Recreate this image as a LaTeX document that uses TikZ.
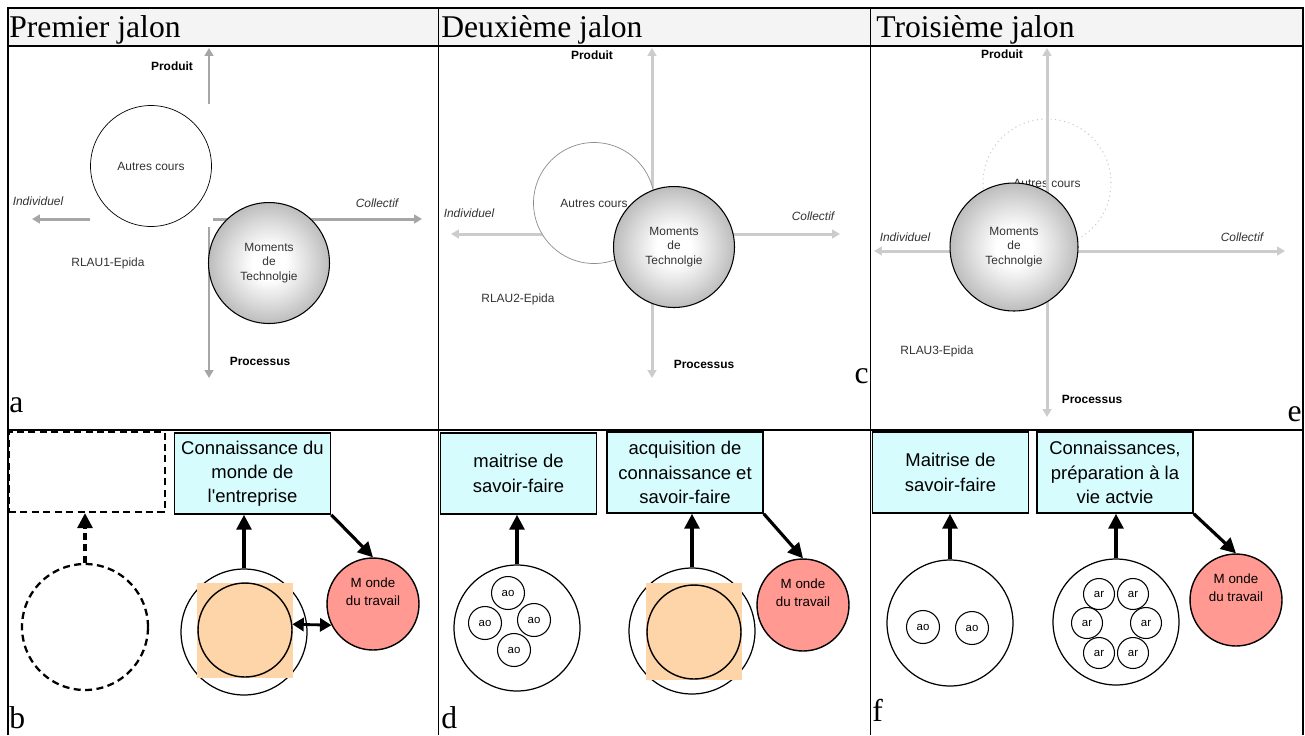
\documentclass[tikz,border=0pt]{standalone}
\usepackage{fontspec}
\setmainfont{Liberation Serif}
\setsansfont{Liberation Sans}
\usepackage{xcolor}
\usetikzlibrary{arrows.meta}
\definecolor{headgray}{RGB}{244,244,244}
\definecolor{axisdark}{RGB}{166,166,166}
\definecolor{axislight}{RGB}{204,204,204}
\definecolor{boxcyan}{RGB}{214,252,253}
\definecolor{peach}{RGB}{253,213,168}
\definecolor{salmon}{RGB}{255,153,145}
\pgfdeclareradialshading{momentshade}{\pgfpoint{0bp}{0bp}}{color(0bp)=(white); color(7bp)=(white); color(17bp)=(black!14); color(25bp)=(black!26); color(50bp)=(black!26)}
\newcommand\lblfont{\sffamily\fontsize{6.8}{8.4}\selectfont}
\tikzset{
	tableline/.style={line width=0.8pt},%
	jalon/.style={font=\fontsize{18}{20}\selectfont,anchor=base west,inner sep=0},%
	panelletter/.style={font=\fontsize{18}{20}\selectfont,inner sep=0},%
	axisa/.style={line width=1.7pt,draw=axisdark,-{Triangle[length=4.5pt,width=5pt]}},%
	axisb/.style={line width=1.7pt,draw=axislight,{Triangle[length=4.5pt,width=5pt]}-{Triangle[length=4.5pt,width=5pt]}},%
	pole/.style={font=\lblfont\bfseries,inner sep=0},%
	side/.style={font=\lblfont\itshape,text=black!80,inner sep=0},%
	tag/.style={font=\lblfont,text=black!80,inner sep=0},%
	autres/.style={circle,draw,fill=white,minimum size=2.42cm,inner sep=0,font=\lblfont,text=black!80},%
	moments/.style={circle,draw,line width=0.6pt,shading=momentshade,minimum size=2.42cm,inner sep=0,align=center,font=\lblfont,text=black!80},%
	goal/.style={draw,line width=0.9pt,fill=boxcyan,minimum width=3.12cm,minimum height=1.62cm,inner sep=0,align=center,font=\sffamily\fontsize{10.5}{13.8}\selectfont},%
	blank/.style={draw,line width=1.3pt,dash pattern=on 4pt off 2.5pt,minimum width=3.12cm,minimum height=1.6cm,inner sep=0},%
	group/.style={circle,draw,line width=0.7pt,minimum size=2.52cm,inner sep=0},%
	core/.style={circle,draw,line width=0.8pt,minimum size=1.88cm,inner sep=0},%
	mondetext/.style={font=\sffamily\fontsize{7.6}{10.3}\selectfont,align=center,inner sep=0,yshift=6.8pt},%
	monde/.style={circle,draw,line width=0.8pt,fill=salmon,minimum size=1.84cm,inner sep=0,label={[mondetext]center:M onde\\du travail}},%
	pupil/.style={circle,draw,line width=0.6pt,minimum size=0.66cm,inner sep=0,font=\sffamily\fontsize{6.5}{7}\selectfont},%
	learner/.style={pupil,minimum size=0.62cm},%
	link/.style={line width=1.8pt,-{Triangle[length=8.5pt,width=8.5pt]}},%
	dashlink/.style={link,dash pattern=on 4pt off 2.5pt},%
	bothlink/.style={line width=1.6pt,{Triangle[length=6.5pt,width=7.5pt]}-{Triangle[length=6.5pt,width=7.5pt]}},%
}
\begin{document}
\begin{tikzpicture}[x=0.02cm,y=-0.02cm]
	\useasboundingbox (0,0) rectangle (1305,735);
	% Table {{{
	\fill[headgray] (8,8) rectangle (1303,46);
	\draw[tableline] (8,735) -- (8,8) -- (1303,8) -- (1303,735);
	\draw[tableline] (8,46) -- (1303,46) (8,430) -- (1303,430);
	\draw[tableline] (438.5,8) -- (438.5,735) (870.5,8) -- (870.5,735);
	\node[jalon] (jalona) at (9,37) {Premier jalon};
	\node[jalon] (jalonc) at (441,37) {Deuxième jalon};
	\node[jalon] (jalone) at (876,37) {Troisième jalon};
	% }}}
	% Premier jalon, a {{{
	\draw[axisa] (209,104) -- (209,48);
	\draw[axisa] (90,219) -- (32,219);
	\draw[axisa] (213,219) -- (422,219);
	\draw[axisa] (209,227) -- (209,378);
	\node[autres] (autresa) at (151,166) {Autres cours};
	\node[moments] (momentsa) at (269,263) {Moments\\de\\Technolgie};
	\node[pole] (produita) at (172,66) {Produit};
	\node[pole] (processusa) at (260,361) {Processus};
	\node[side] (individuela) at (38,201) {Individuel};
	\node[side] (collectifa) at (377,203) {Collectif};
	\node[tag] (rlaua) at (108,263) {RLAU1-Epida};
	\node[panelletter,anchor=base west] (lettera) at (9,412) {a};
	% }}}
	% Deuxieme jalon, c {{{
	\draw[axisb] (652,48) -- (652,378);
	\draw[axisb] (451,234) -- (840,234);
	\node[autres,draw=black!45,line width=0.4pt] (autresc) at (594,203) {Autres cours};
	\node[moments] (momentsc) at (674,247) {Moments\\de\\Technolgie};
	\node[pole] (produitc) at (592,55) {Produit};
	\node[pole] (processusc) at (704,364) {Processus};
	\node[side] (individuelc) at (469,213) {Individuel};
	\node[side] (collectifc) at (813,216) {Collectif};
	\node[tag] (rlauc) at (518,299) {RLAU2-Epida};
	\node[panelletter,anchor=base east] (letterc) at (869,383) {c};
	% }}}
	% Troisieme jalon, e {{{
	\node[autres,fill=none,draw=black!22,dotted,line width=0.6pt,minimum size=2.56cm] (autrese) at (1047,183) {Autres cours};
	\draw[axisb] (1047,48) -- (1047,417);
	\draw[axisb] (874,251) -- (1285,251);
	\node[moments,minimum size=2.56cm] (momentse) at (1014,247) {Moments\\de\\Technolgie};
	\node[pole] (produite) at (1002,54) {Produit};
	\node[pole] (processuse) at (1092,399) {Processus};
	\node[side] (individuele) at (905,237) {Individuel};
	\node[side] (collectife) at (1242,237) {Collectif};
	\node[tag] (rlaue) at (937,351) {RLAU3-Epida};
	\node[panelletter,anchor=base east] (lettere) at (1302,421) {e};
	% }}}
	% b {{{
	\node[blank] (blankb) at (87,472) {};
	\node[group,line width=1.3pt,dash pattern=on 4pt off 2.5pt] (dashb) at (85,627) {};
	\draw[dashlink] (dashb.north) -- (dashb.north |- blankb.south);
	\node[goal] (goalb) at (252.5,473.5) {Connaissance du\\monde de\\l\textquotesingle entreprise};
	\node[group] (groupb) at (244,632) {};
	\fill[peach] (197,583) rectangle (293,678);
	\node[core] (coreb) at (245,630) {};
	\node[monde] (mondeb) at (373,604) {};
	\draw[link] (groupb.north) -- (groupb.north |- goalb.south);
	\draw[link] (goalb.south east) -- (mondeb.north);
	\draw[bothlink] (coreb.7) -- (mondeb.207);
	\node[panelletter,anchor=base west] (letterb) at (9,728) {b};
	% }}}
	% d {{{
	\node[goal] (goald) at (518.5,473.5) {maitrise de\\savoir-faire};
	\node[group] (groupd) at (517,628) {};
	\node[pupil] (aod1) at (508,593) {ao};
	\node[pupil] (aod2) at (485,623) {ao};
	\node[pupil] (aod3) at (534,620) {ao};
	\node[pupil] (aod4) at (514,650) {ao};
	\draw[link] (groupd.north) -- (groupd.north |- goald.south);
	\node[goal] (goaldd) at (685,472.5) {acquisition de\\connaissance et\\savoir-faire};
	\node[group] (groupdd) at (692,631) {};
	\fill[peach] (646,583) rectangle (742,680);
	\node[core] (coredd) at (694,632) {};
	\node[monde] (monded) at (803,605) {};
	\draw[link] (groupdd.north) -- (groupdd.north |- goaldd.south);
	\draw[link] (goaldd.south east) -- (monded.north);
	\node[panelletter,anchor=base west] (letterd) at (441,728) {d};
	% }}}
	% f {{{
	\node[goal] (goalf) at (950.5,472.5) {Maitrise de\\savoir-faire};
	\node[group] (groupf) at (950,623) {};
	\node[pupil] (aof1) at (923,627) {ao};
	\node[pupil] (aof2) at (972,628) {ao};
	\draw[link] (groupf.north) -- (groupf.north |- goalf.south);
	\node[goal] (goalff) at (1115,472.5) {Connaissances,\\préparation à la\\vie actvie};
	\node[group] (groupff) at (1116,622) {};
	\node[learner] (arf1) at (1099,594) {ar};
	\node[learner] (arf2) at (1133,594) {ar};
	\node[learner] (arf3) at (1087,623) {ar};
	\node[learner] (arf4) at (1146,623) {ar};
	\node[learner] (arf5) at (1099,653) {ar};
	\node[learner] (arf6) at (1133,653) {ar};
	\node[monde] (mondef) at (1236,600) {};
	\draw[link] (groupff.north) -- (groupff.north |- goalff.south);
	\draw[link] (goalff.south east) -- (mondef.north);
	\node[panelletter,anchor=base west] (letterf) at (872,721) {f};
	% }}}
\end{tikzpicture}
\end{document}
